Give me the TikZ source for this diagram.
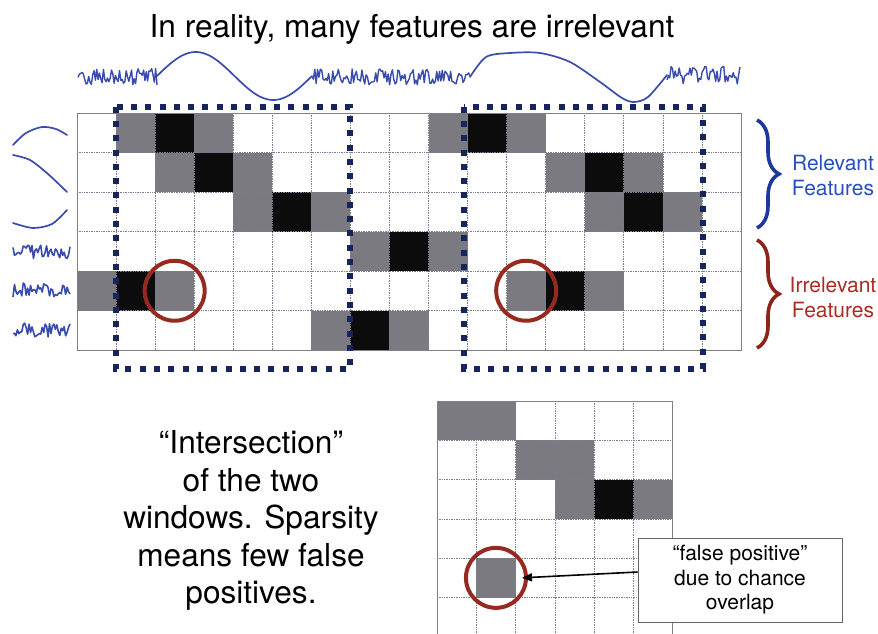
\documentclass[tikz,border=0pt]{standalone}
\usepackage{fontspec}
\setmainfont{TeX Gyre Heros}
\usetikzlibrary{decorations.pathreplacing,arrows.meta}

\definecolor{wavecol}{RGB}{58,76,172}
\definecolor{navy}{RGB}{24,36,92}
\definecolor{relblue}{RGB}{38,78,190}
\definecolor{braceblue}{RGB}{28,56,158}
\definecolor{ringred}{RGB}{150,42,32}
\definecolor{irrred}{RGB}{172,44,34}
\definecolor{bracered}{RGB}{140,36,26}
\definecolor{cellgray}{RGB}{122,122,128}
\definecolor{cellblack}{RGB}{12,12,12}
\definecolor{gridcol}{RGB}{120,125,145}

\begin{document}
\begin{tikzpicture}[x=1pt, y=-1pt,
	wave/.style={draw=wavecol, line width=1.7pt, line join=round, line cap=round},
	noise/.style={draw=wavecol, line width=1.4pt, line join=round},
	gcell/.style={fill=cellgray},
	bcell/.style={fill=cellblack},
	gline/.style={draw=gridcol, line width=0.7pt, densely dotted},
	gbox/.style={draw=gray, line width=0.9pt},
	window/.style={draw=navy, line width=6pt, dash pattern=on 6pt off 8.3pt},
	ring/.style={circle, draw=ringred, line width=4pt, minimum size=60pt, inner sep=0pt},
	bigtext/.style={font=\fontsize{31.6}{37.5}\selectfont, inner sep=0pt},
	sidetext/.style={font=\fontsize{21}{25}\selectfont, align=center, inner sep=0pt, anchor=north},
	featbrace/.style={decorate, decoration={brace, amplitude=22pt}, line width=3.6pt},
	callout/.style={draw=gray!80!black, line width=0.8pt, fill=white, minimum width=204pt, minimum height=84pt, align=center, font=\fontsize{21}{24.5}\selectfont, inner sep=2pt}
	]
	\useasboundingbox (0,0) rectangle (878,634);
	\pgfmathsetseed{11}

	\node[bigtext, anchor=base] (title) at (412,38) {In reality, many features are irrelevant};

	\draw[noise] plot[domain=78:157, samples=60] (\x,{77+9*rand});
	\draw[wave] plot[domain=0:360, samples=60] ({157+\x*0.43056},{76-24*sin(\x)});
	\draw[noise] plot[domain=312:470, samples=115] (\x,{77+8*rand});
	\draw[wave] plot[smooth] coordinates {(470,77) (486,57) (510,53) (540,53) (570,62) (600,82) (622,98) (634,102) (648,97) (667,75)};
	\draw[noise] plot[domain=667:740, samples=55] (\x,{75+9*rand});

	\draw[wave] plot[smooth] coordinates {(13,145) (26,133) (42,127) (56,129) (67,135)};
	\draw[wave] plot[smooth] coordinates {(13,155) (30,160) (48,174) (67,192)};
	\draw[wave] plot[smooth] coordinates {(13,223) (33,228) (52,224) (67,210)};
	\foreach \yy in {252,290,330}
		\draw[noise, line width=1.6pt] plot[domain=13:70, samples=40] (\x,{\yy+7*rand});

	\begin{scope}[shift={(77,113)}, x=39.06pt, y=-39.5pt]
		\foreach \c/\r in {1/0,3/0,9/0,11/0,2/1,4/1,12/1,14/1,4/2,6/2,13/2,15/2,7/3,9/3,0/4,2/4,11/4,13/4,6/5,8/5}
			\fill[gcell] (\c,\r) rectangle ++(1,1);
		\foreach \c/\r in {2/0,10/0,3/1,13/1,5/2,14/2,8/3,1/4,12/4,7/5}
			\fill[bcell] (\c,\r) rectangle ++(1,1);
		\foreach \i in {1,...,16}
			\draw[gline] (\i,0) -- (\i,6);
		\foreach \j in {1,...,5}
			\draw[gline] (0,\j) -- (17,\j);
		\draw[gbox] (0,0) rectangle (17,6);
		\draw[window] (1,-0.16) rectangle (7,6.48);
		\draw[window] (9.92,-0.16) rectangle (16.02,6.48);
		\node[ring] (ringl) at (2.5,4.5) {};
		\node[ring] (ringr) at (11.5,4.5) {};
	\end{scope}

	\draw[featbrace, draw=braceblue] (757,120) -- (757,228);
	\draw[featbrace, draw=bracered] (757,240) -- (757,348);
	\node[sidetext, text=relblue] (rel) at (833,155) {Relevant\\Features};
	\node[sidetext, text=irrred] (irr) at (833,277) {Irrelevant\\Features};

	\node[bigtext, align=center, anchor=north] (inter) at (251,430.5) {“Intersection”\\of the two\\windows. Sparsity\\means few false\\positives.};

	\begin{scope}[shift={(437,401)}, x=39.3pt, y=-39.3pt]
		\foreach \c/\r in {0/0,1/0,2/1,3/1,3/2,5/2,1/4}
			\fill[gcell] (\c,\r) rectangle ++(1,1);
		\fill[bcell] (4,2) rectangle ++(1,1);
		\foreach \i in {1,...,5}
			\draw[gline] (\i,0) -- (\i,6);
		\foreach \j in {1,...,5}
			\draw[gline] (0,\j) -- (6,\j);
		\draw[gbox] (0,0) rectangle (6,6);
		\node[ring] (ringb) at (1.5,4.5) {};
	\end{scope}

	\node[callout] (fp) at (740,580) {“false positive”\\due to chance\\overlap};
	\draw[-{Triangle[length=10pt,width=8pt]}, line width=1.6pt] ([yshift=8pt]fp.west) -- ([xshift=-6pt]ringb.east);
\end{tikzpicture}
\end{document}
